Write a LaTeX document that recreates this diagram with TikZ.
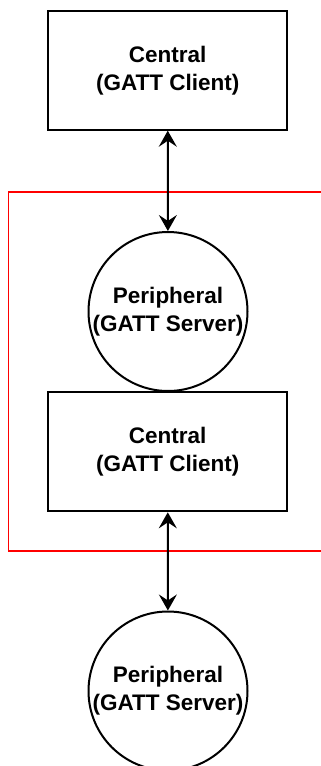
\documentclass[tikz,border=0pt]{standalone}
\usepackage{fontspec}
\setmainfont{Liberation Sans}
\usetikzlibrary{arrows.meta}
\begin{document}
\begin{tikzpicture}[x=1pt,y=-1pt,
  lbl/.style={font=\fontsize{22.5}{28}\selectfont\bfseries, align=center, text=black},
  boxnode/.style={lbl, draw=black, line width=2pt, rectangle, minimum width=238.5pt, minimum height=119pt, inner sep=0pt},
  circnode/.style={lbl, draw=black, line width=2pt, circle, minimum size=159pt, inner sep=0pt},
  link/.style={line width=2pt, {Stealth[length=16pt,width=18pt,inset=6pt]}-{Stealth[length=16pt,width=18pt,inset=6pt]}}
]
\clip (0,0) rectangle (321,766);
\fill[white] (0,0) rectangle (321,766);
\draw[red, line width=1.8pt] (340,192.3) -- (8.5,192.3) -- (8.5,550.7) -- (340,550.7);
\node[boxnode] (c1) at (167.7,70.2) {Central\\(GATT Client)};
\node[circnode] (p1) at (168,311.5) {Peripheral\\(GATT Server)};
\node[boxnode] (c2) at (167.7,451.8) {Central\\(GATT Client)};
\node[circnode] (p2) at (168,691) {Peripheral\\(GATT Server)};
\draw[link] (c1) -- (p1);
\draw[link] (c2) -- (p2);
\end{tikzpicture}
\end{document}
